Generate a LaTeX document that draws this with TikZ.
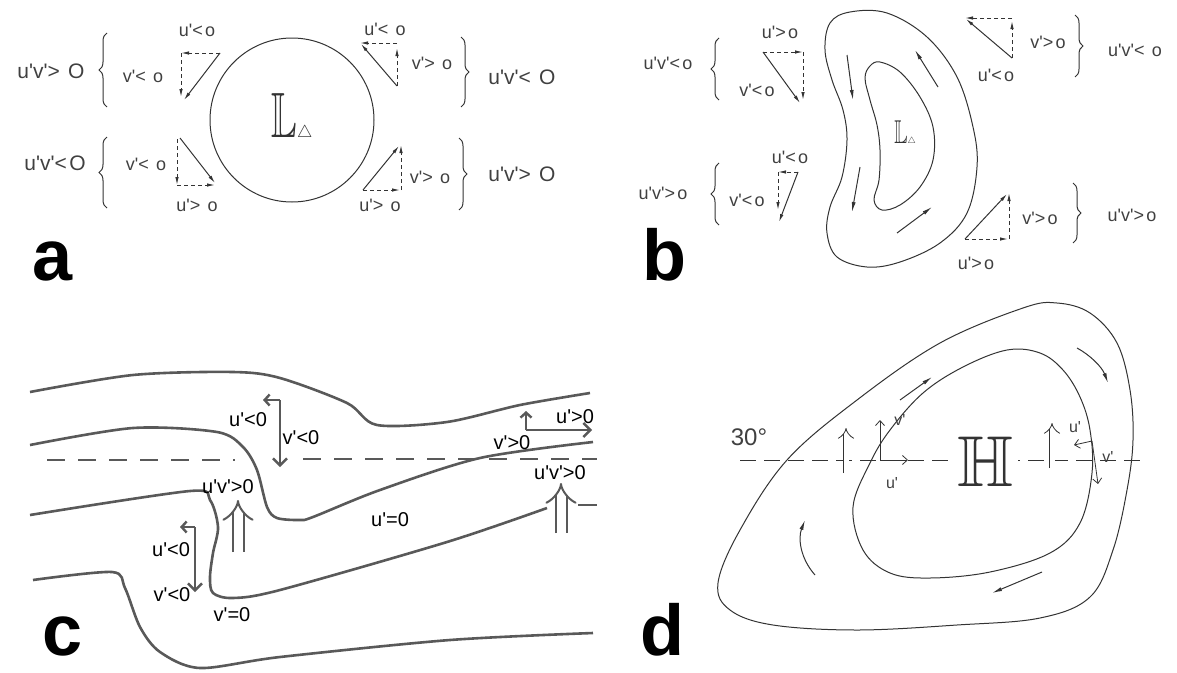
\documentclass[tikz,border=0pt]{standalone}
\usepackage{amssymb}
\usepackage{fontspec}
\setmainfont{Liberation Sans}
\usetikzlibrary{arrows.meta,decorations.pathreplacing}
\newcommand{\prm}{\textquotesingle}
\newcommand{\lowsym}[2]{\scalebox{0.6}[1]{\fontsize{#1}{#1}\selectfont\(\mathbb{L}\)}\fontsize{#2}{#2}\selectfont\(\triangle\)}

\begin{document}
\begin{tikzpicture}[
  x=1pt, y=-1pt,
  hand/.style={draw=black!80, line width=1pt},
  vec/.style={hand, -{Latex[length=8pt,width=3.5pt]}},
  comp/.style={vec, dash pattern=on 4pt off 3pt},
  lbl/.style={text=black!75, font=\fontsize{18}{18}\selectfont\addfontfeatures{LetterSpace=12}, inner sep=0pt},
  biglbl/.style={lbl, font=\fontsize{21}{21}\selectfont\addfontfeatures{LetterSpace=12}},
  lbrace/.style={hand, decorate, decoration={brace, amplitude=8pt}},
  panel/.style={font=\fontsize{72}{72}\selectfont\bfseries, inner sep=0pt, anchor=base west, text depth=0pt},
  cline/.style={draw=black!65, line width=2.6pt},
  cvec/.style={draw=black!65, line width=2.4pt, -{Straight Barb[length=7pt,width=14pt]}},
  cshort/.style={draw=black!65, line width=2.4pt, -{Straight Barb[length=5pt,width=11pt]}},
  cdbl/.style={draw=black!65, line width=2pt, double, double distance=9pt, -{Implies}},
  ctxt/.style={font=\fontsize{20}{20}\selectfont, inner sep=0pt},
  dvec/.style={hand, line width=0.8pt, -{Straight Barb[length=5pt,width=9pt]}},
  ddbl/.style={hand, line width=0.8pt, double, double distance=5pt, -{Implies}},
  flow/.style={hand, -{Latex[length=10pt,width=4pt]}}
]
\useasboundingbox (0,0) rectangle (1177,672);

% Panel a
\draw[hand] (292,120) circle[radius=82];
\node[text=black!80, inner sep=0pt, anchor=base] (lowa) at (292,137) {\lowsym{64}{16}};

\draw[comp] (220,53) -- (181,53);
\draw[comp] (181,53) -- (181,97);
\draw[vec] (220,53) -- (184,100);
\node[lbl] (a-tl-u) at (197,30) {u\prm<o};
\node[lbl] (a-tl-v) at (143,76) {v\prm< o};
\draw[lbrace] (107,107) -- (107,33);
\node[biglbl] (a-tl-uv) at (51,71) {u\prm v\prm > O};

\draw[comp] (177,139) -- (177,185);
\draw[comp] (177,185) -- (215,185);
\draw[vec] (180,138) -- (215,183);
\node[lbl] (a-bl-v) at (146,164) {v\prm< o};
\node[lbl] (a-bl-u) at (197,205) {u\prm> o};
\draw[lbrace] (107,208) -- (107,137);
\node[biglbl] (a-bl-uv) at (55,163) {u\prm v\prm <O};

\draw[comp] (397,43) -- (360,43);
\draw[comp] (397,86) -- (397,48);
\draw[vec] (397,86) -- (361,44);
\node[lbl] (a-tr-u) at (385,29) {u\prm< o};
\node[lbl] (a-tr-v) at (432,63) {v\prm> o};
\draw[lbrace] (461,37) -- (461,107);
\node[biglbl] (a-tr-uv) at (522,77) {u\prm v\prm < O};

\draw[vec] (363,190) -- (399,146);
\draw[comp] (363,190) -- (400,190);
\draw[comp] (401,190) -- (401,145);
\node[lbl] (a-br-v) at (430,177) {v\prm> o};
\node[lbl] (a-br-u) at (380,205) {u\prm > o};
\draw[lbrace] (459,138) -- (459,210);
\node[biglbl] (a-br-uv) at (522,174) {u\prm v\prm > O};

\node[panel] (lbl-a) at (32,280) {a};

% Panel b
\draw[hand] plot[smooth cycle, tension=0.6] coordinates {(830,23) (850,12) (887,13) (927,37) (957,77) (973,127) (977,167) (967,213) (940,243) (900,262) (867,267) (837,257) (827,233) (830,207) (842,177) (847,140) (843,110) (832,80) (825,50)};
\draw[hand] plot[smooth cycle, tension=0.6] coordinates {(865,78) (870,66) (880,62) (900,72) (920,97) (933,127) (933,160) (920,187) (900,205) (882,210) (874,200) (879,180) (880,150) (877,125) (870,100)};
\draw[flow] (847,55) -- (853,100);
\draw[flow] (860,167) -- (852,212);
\draw[flow] (938,87) -- (915,50);
\draw[flow] (897,233) -- (932,207);
\node[text=black!80, inner sep=0pt, anchor=base] (lowb) at (905,143) {\lowsym{33}{9}};

\draw[comp] (763,52) -- (803,52);
\draw[comp] (803,52) -- (803,100);
\draw[vec] (763,52) -- (800,103);
\node[lbl] (b-tl-u) at (780,32) {u\prm>o};
\node[lbl] (b-tl-v) at (757,90) {v\prm<o};
\draw[lbrace] (719,100) -- (719,38);
\node[lbl] (b-tl-uv) at (668,63) {u\prm v\prm<o};

\draw[comp] (798,172) -- (778,172);
\draw[comp] (778,172) -- (778,210);
\draw[vec] (798,172) -- (779,222);
\node[lbl] (b-bl-u) at (790,157) {u\prm<o};
\node[lbl] (b-bl-v) at (747,200) {v\prm<o};
\draw[lbrace] (719,225) -- (719,163);
\node[lbl] (b-bl-uv) at (663,193) {u\prm v\prm >o};

\draw[comp] (1012,18) -- (965,18);
\draw[comp] (1012,58) -- (1012,21);
\draw[vec] (1012,58) -- (966,19);
\node[lbl] (b-tr-v) at (1048,42) {v\prm>o};
\node[lbl] (b-tr-u) at (996,75) {u\prm<o};
\draw[lbrace] (1075,15) -- (1075,77);
\node[lbl] (b-tr-uv) at (1135,50) {u\prm v\prm< o};

\draw[vec] (965,239) -- (1007,194);
\draw[comp] (965,239) -- (1008,239);
\draw[comp] (1009,239) -- (1009,193);
\node[lbl] (b-br-v) at (1040,218) {v\prm>o};
\node[lbl] (b-br-u) at (976,263) {u\prm >o};
\draw[lbrace] (1073,183) -- (1073,243);
\node[lbl] (b-br-uv) at (1132,215) {u\prm v\prm>o};

\node[panel] (lbl-b) at (642,280) {b};

% Panel c
\draw[cline] plot[smooth, tension=0.5] coordinates {(30,392) (133,375) (233,372) (280,378) (347,403) (377,425) (447,422) (520,405) (590,393)};
\draw[cline] plot[smooth, tension=0.5] coordinates {(30,445) (133,428) (217,432) (243,447) (257,470) (267,507) (277,518) (300,520) (313,517) (380,490) (480,458) (593,442)};
\draw[cline] plot[smooth, tension=0.5] coordinates {(30,515) (190,491) (210,500) (218,527) (213,553) (210,577) (213,593) (233,598) (280,590) (447,542) (547,508)};
\draw[cline] (578,505) -- (597,505);
\draw[cline] plot[smooth, tension=0.5] coordinates {(33,580) (112,572) (125,588) (140,627) (160,652) (200,668) (280,657) (450,640) (593,633)};
\draw[cline, line width=2pt, dash pattern=on 18pt off 13pt] (47,460) -- (235,460);
\draw[cline, line width=2pt, dash pattern=on 18pt off 13pt] (303,459) -- (597,459);

\draw[cvec] (280,400) -- (280,467);
\draw[cshort] (280,400) -- (263,400);
\node[ctxt] (c-u1) at (248,420) {u\prm<0};
\node[ctxt] (c-v1) at (301,438) {v\prm<0};
\node[ctxt] (c-uv1) at (228,487) {u\prm v\prm>0};
\draw[cdbl] (238,552) -- (238,500);

\draw[cvec] (195,527) -- (195,592);
\draw[cshort] (195,527) -- (180,527);
\node[ctxt] (c-u2) at (171,550) {u\prm<0};
\node[ctxt] (c-v2) at (172,595) {v\prm<0};
\node[ctxt] (c-v0) at (232,615) {v\prm=0};
\node[ctxt] (c-u0) at (390,520) {u\prm=0};

\draw[cshort] (526,430) -- (526,411);
\draw[cvec] (526,430) -- (592,430);
\node[ctxt] (c-u3) at (575,417) {u\prm>0};
\node[ctxt] (c-v3) at (512,443) {v\prm>0};
\node[ctxt] (c-uv3) at (560,473) {u\prm v\prm>0};
\draw[cdbl] (561,533) -- (561,483);

\node[panel] (lbl-c) at (42,655) {c};

% Panel d
\draw[hand, dash pattern=on 16pt off 8pt] (740,460) -- (1147,460);
\draw[hand] plot[smooth cycle, tension=0.6] coordinates {(718,583) (740,530) (787,460) (857,400) (940,343) (1023,308) (1057,303) (1090,313) (1117,343) (1130,390) (1133,440) (1127,490) (1113,550) (1090,597) (1040,618) (957,625) (857,630) (773,625) (730,610)};
\draw[hand] plot[smooth cycle, tension=0.6] coordinates {(853,507) (863,550) (890,573) (930,578) (990,572) (1050,553) (1080,523) (1092,473) (1090,430) (1080,397) (1063,370) (1040,353) (1007,350) (963,367) (923,393) (890,430) (870,463)};
\node[fill=white, text=black!80, font=\fontsize{72}{72}\selectfont, inner sep=5pt] (high) at (985,462) {\(\mathbb{H}\)};
\node[lbl, font=\fontsize{24}{24}\selectfont] (d-lat) at (749,437) {30°};

\draw[ddbl] (846,473) -- (846,428);
\draw[ddbl] (1052,468) -- (1052,423);
\draw[dvec] (880,460) -- (880,420);
\draw[dvec] (880,460) -- (908,460);
\node[lbl, font=\fontsize{16}{16}\selectfont] (d-v1) at (900,420) {v\prm};
\node[lbl, font=\fontsize{16}{16}\selectfont] (d-u1) at (892,483) {u\prm};
\draw[dvec] (1092,441) -- (1074,445);
\draw[dvec] (1092,441) -- (1098,484);
\node[lbl, font=\fontsize{16}{16}\selectfont] (d-u2) at (1075,427) {u\prm};
\node[lbl, font=\fontsize{16}{16}\selectfont] (d-v2) at (1108,457) {v\prm};

\draw[flow] (900,400) -- (932,377);
\draw[flow] (1077,348) .. controls (1090,355) and (1102,367) .. (1108,383);
\draw[flow] (1042,572) -- (992,593);
\draw[flow] (815,575) .. controls (800,558) and (798,538) .. (805,520);

\node[panel] (lbl-d) at (640,655) {d};

\end{tikzpicture}
\end{document}
